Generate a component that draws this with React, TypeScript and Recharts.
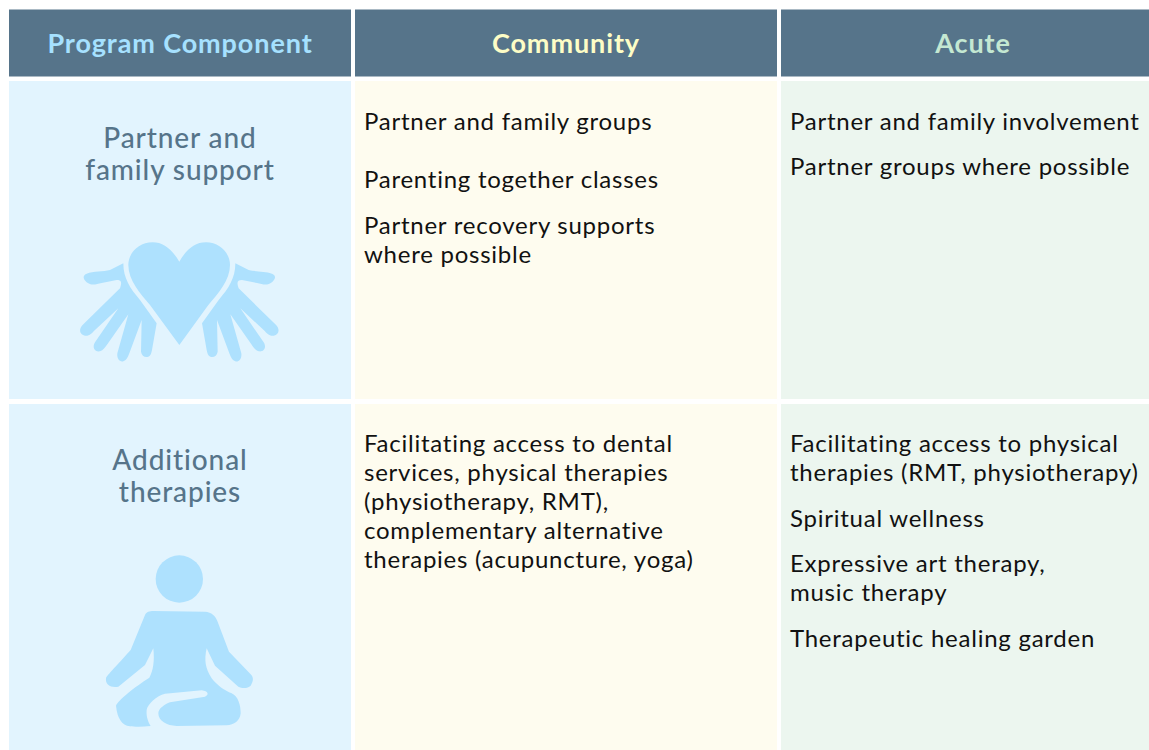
import { ComposedChart, XAxis, YAxis, ReferenceArea, ReferenceDot } from "recharts"

// table content
const headers = ["Program Component", "Community", "Acute"]
const rowLabels = [["Partner and", "family support"], ["Additional", "therapies"]]
const communityLines = [
  ["Partner and family groups", "Parenting together classes", "Partner recovery supports", "where possible"],
  [
    "Facilitating access to dental",
    "services, physical therapies",
    "(physiotherapy, RMT),",
    "complementary alternative",
    "therapies (acupuncture, yoga)",
  ],
]
const acuteLines = [
  ["Partner and family involvement", "Partner groups where possible"],
  [
    "Facilitating access to physical",
    "therapies (RMT, physiotherapy)",
    "Spiritual wellness",
    "Expressive art therapy,",
    "music therapy",
    "Therapeutic healing garden",
  ],
]

// layout, in axis units (the axes run 1:1 with the picture)
const WIDTH = 1149
const HEIGHT = 750
const colEdges = [[9, 351], [355, 777], [781, 1149]]
const headerEdge = [9.5, 76.5]
const rowEdges = [[81, 399], [404, 750]]
const headerCenters = [180, 566, 973]
const labelBaselines = [[148, 180], [470, 502]]
const communityBaselines = [[130, 188, 234, 263], [452, 481, 510, 539, 568]]
const acuteBaselines = [[130, 175], [452, 481, 527, 572, 601, 647]]
const bodyX = [364, 790]

const FONT = "Lato, sans-serif"
const headerFill = "#56748a"
const headerText = ["#a6e1ff", "#fdfdc6", "#c4e8d2"]
const cellFill = ["#e2f4fe", "#fefcef", "#ecf6ef"]
const iconFill = "#aee1fe"

const heart =
  "M358 110 C335 72 310 52 278 52 C235 52 205 85 205 120 C205 165 240 205 270 240 L358 360 L445 240 C475 205 510 165 510 120 C510 85 480 52 438 52 C405 52 380 72 358 110 Z"
const hand =
  "M190 115 L150 135 C130 140 100 138 80 146 C65 152 70 165 85 175 C95 182 110 178 125 174 L170 165 C185 165 186 172 180 190 L70 298 C55 312 58 328 75 332 C88 334 95 325 105 315 L175 250 L105 352 C95 368 105 382 120 379 C130 376 135 368 142 358 L205 268 L172 385 C170 402 180 412 190 409 C198 407 204 396 208 385 L245 285 L243 380 C245 393 255 398 265 395 C272 392 274 385 276 375 L290 295 L240 225 C210 190 190 160 190 115 Z"
const person =
  "M165 210 C170 200 178 198 190 198 L345 200 C365 202 376 212 382 228 L417 320 L482 388 C492 398 490 410 482 422 C472 432 455 430 445 425 L375 362 L350 310 C342 345 346 370 365 400 C380 420 405 438 425 445 C445 455 452 480 452 505 C450 528 432 540 410 541 L260 543 C230 542 205 528 205 505 C205 490 225 478 240 472 L345 455 C358 450 355 438 335 436 L225 446 C200 452 172 478 170 495 C168 515 175 532 182 543 C160 546 135 546 120 544 C95 540 82 520 78 482 C85 465 135 425 178 398 C190 375 194 350 190 310 L165 360 L85 425 C65 430 45 420 48 400 C50 392 60 384 122 315 Z"

const TextDot = ({ x, y, value, anchor, size, weight, fill, spacing }: any) => (
  <ReferenceDot
    x={x}
    y={y}
    r={0}
    shape={(p: any) => (
      <text
        x={p.cx}
        y={p.cy}
        textAnchor={anchor}
        fontFamily={FONT}
        fontSize={size}
        fontWeight={weight}
        fill={fill}
        letterSpacing={spacing}
      >
        {value}
      </text>
    )}
  />
)

export default function App() {
  const bodyText = (lines: string[][], baselines: number[][], x: number) =>
    lines.flatMap((group, r) =>
      group.map((line, i) => (
        <TextDot key={`${x}-${r}-${i}`} x={x} y={baselines[r][i]} value={line} anchor="start" size={24} weight={400} fill="#111111" spacing={0.75} />
      ))
    )

  return (
    <div style={{ position: "absolute", left: 0, top: 0, width: WIDTH, height: HEIGHT }}>
      <ComposedChart
        width={WIDTH}
        height={HEIGHT}
        data={[{ x: 0, y: 0 }, { x: WIDTH, y: HEIGHT }]}
        margin={{ top: 0, right: 0, bottom: 0, left: 0 }}
      >
        <XAxis type="number" dataKey="x" domain={[0, WIDTH]} allowDataOverflow hide />
        <YAxis type="number" dataKey="y" domain={[0, HEIGHT]} allowDataOverflow reversed hide />

        {colEdges.map(([x1, x2], c) => (
          <ReferenceArea key={`h${c}`} x1={x1} x2={x2} y1={headerEdge[0]} y2={headerEdge[1]} fill={headerFill} fillOpacity={1} />
        ))}
        {rowEdges.flatMap(([y1, y2], r) =>
          colEdges.map(([x1, x2], c) => (
            <ReferenceArea key={`c${r}-${c}`} x1={x1} x2={x2} y1={y1} y2={y2} fill={cellFill[c]} fillOpacity={1} />
          ))
        )}

        {headers.map((h, c) => (
          <TextDot key={h} x={headerCenters[c]} y={53} value={h} anchor="middle" size={27} weight={700} fill={headerText[c]} spacing={0.9} />
        ))}
        {rowLabels.flatMap((group, r) =>
          group.map((line, i) => (
            <TextDot key={line} x={headerCenters[0]} y={labelBaselines[r][i]} value={line} anchor="middle" size={28} weight={500} fill={headerFill} spacing={0.9} />
          ))
        )}
        {bodyText(communityLines, communityBaselines, bodyX[0])}
        {bodyText(acuteLines, acuteBaselines, bodyX[1])}

        {/* icons are traced at 3x, hence the scale */}
        <ReferenceDot
          x={60}
          y={225}
          r={0}
          shape={(p: any) => (
            <g transform={`translate(${p.cx} ${p.cy}) scale(${1 / 3})`} fill={iconFill}>
              <path d={heart} />
              <path d={hand} />
              <path d={hand} transform="translate(716 0) scale(-1 1)" />
            </g>
          )}
        />
        <ReferenceDot
          x={90}
          y={545}
          r={0}
          shape={(p: any) => (
            <g transform={`translate(${p.cx} ${p.cy}) scale(${1 / 3})`} fill={iconFill}>
              <circle cx={268} cy={102} r={71} />
              <path d={person} />
            </g>
          )}
        />
      </ComposedChart>
    </div>
  )
}
